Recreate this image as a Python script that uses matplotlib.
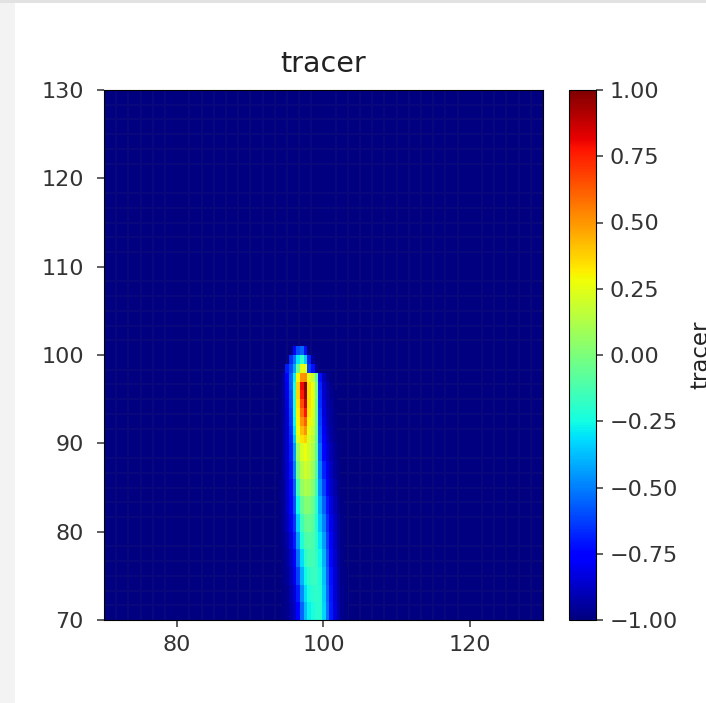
import matplotlib
matplotlib.use('Agg')
import matplotlib.pyplot as plt
from matplotlib.patches import Rectangle
import numpy as np

# cell edges of the plume part of the field, everything else sits at -1
x_edges = [93.3, 93.8, 94.3, 94.8, 95.3, 95.8, 96.3, 96.8, 97.3, 97.8, 98.3, 98.8,
           99.3, 99.8, 100.3, 100.8, 101.3, 101.8, 102.3, 102.8, 103.3]
y_edges = [70, 72, 74, 76, 78, 80, 82, 84, 86, 88, 90, 91, 92, 93, 94, 95,
           96, 97, 98, 99, 100, 101]

# tracer values, bottom row first
tracer = [
    [-1, -1, -.99, -.97, -.93, -.87, -.75, -.55, -.38, -.28, -.24, -.2, -.2, -.33, -.52, -.7, -.84, -.92, -.97, -.99],
    [-1, -1, -.99, -.97, -.92, -.85, -.7, -.48, -.32, -.24, -.2, -.18, -.21, -.35, -.54, -.71, -.85, -.93, -.97, -.99],
    [-1, -1, -.98, -.96, -.9, -.8, -.62, -.4, -.26, -.19, -.17, -.17, -.23, -.37, -.56, -.72, -.85, -.93, -.98, -.99],
    [-1, -1, -.98, -.95, -.88, -.76, -.53, -.32, -.19, -.14, -.14, -.18, -.26, -.4, -.58, -.74, -.86, -.94, -.98, -1],
    [-1, -.99, -.97, -.93, -.84, -.7, -.44, -.22, -.12, -.1, -.12, -.2, -.3, -.44, -.62, -.77, -.88, -.95, -.98, -1],
    [-1, -.99, -.96, -.9, -.8, -.65, -.35, -.15, -.06, -.05, -.08, -.22, -.36, -.5, -.66, -.8, -.89, -.95, -.98, -1],
    [-1, -.99, -.96, -.89, -.77, -.6, -.26, -.06, .02, .02, -.05, -.2, -.4, -.56, -.71, -.83, -.91, -.96, -.99, -1],
    [-1, -.99, -.96, -.88, -.74, -.56, -.14, .06, .12, .1, .03, -.16, -.46, -.62, -.76, -.86, -.93, -.97, -1, -1],
    [-1, -.99, -.95, -.87, -.72, -.5, -.02, .14, .2, .16, .08, -.12, -.5, -.68, -.8, -.89, -.95, -.98, -1, -1],
    [-1, -.99, -.95, -.86, -.7, -.44, .08, .22, .28, .2, .12, -.08, -.54, -.74, -.84, -.91, -.96, -.99, -1, -1],
    [-1, -.99, -.95, -.86, -.68, -.36, .22, .34, .38, .22, .15, -.07, -.58, -.78, -.87, -.93, -.97, -1, -1, -1],
    [-1, -.99, -.95, -.86, -.66, -.3, .28, .42, .5, .25, .18, -.05, -.6, -.8, -.88, -.94, -.97, -1, -1, -1],
    [-1, -.99, -.95, -.86, -.64, -.26, .3, .5, .62, .3, .22, -.05, -.62, -.82, -.9, -.95, -.98, -1, -1, -1],
    [-1, -.99, -.95, -.85, -.62, -.24, .32, .58, .78, .33, .24, -.05, -.64, -.84, -.91, -.95, -.98, -1, -1, -1],
    [-1, -.99, -.95, -.84, -.6, -.22, .34, .66, .88, .35, .26, -.04, -.66, -.85, -.92, -.96, -.99, -1, -1, -1],
    [-1, -.99, -.94, -.82, -.58, -.2, .36, .76, .96, .35, .26, -.02, -.67, -.86, -.92, -.97, -.99, -1, -1, -1],
    [-1, -.99, -.94, -.8, -.56, -.22, .38, .8, 1, .35, .25, -.02, -.68, -.87, -.93, -.97, -1, -1, -1, -1],
    [-1, -.99, -.94, -.76, -.55, -.28, .3, .5, .52, .25, .18, -.08, -.72, -.9, -.96, -1, -1, -1, -1, -1],
    [-1, -1, -1, -.7, -.6, -.42, -.05, .25, .25, -.62, -.72, -.95, -1, -1, -1, -1, -1, -1, -1, -1],
    [-1, -1, -1, -1, -.66, -.52, -.3, -.18, -.35, -.68, -.95, -1, -1, -1, -1, -1, -1, -1, -1, -1],
    [-1, -1, -1, -1, -1, -.75, -.6, -.55, -.72, -1, -1, -1, -1, -1, -1, -1, -1, -1, -1, -1],
]

x_ticks = [80, 100, 120]
y_ticks = [70, 80, 90, 100, 110, 120, 130]
cbar_ticks = [-1, -0.75, -0.5, -0.25, 0, 0.25, 0.5, 0.75, 1]
cbar_labels = ['\u22121.00', '\u22120.75', '\u22120.50', '\u22120.25', '0.00', '0.25', '0.50', '0.75', '1.00']

W, H = 706, 703
fig = plt.figure(figsize=(W / 100, H / 100), dpi=100)

# notebook page edges around the screenshot
fig.add_artist(Rectangle((0, 0), 15 / W, 1, transform=fig.transFigure, color='#f3f3f3', lw=0))
fig.add_artist(Rectangle((0, 1 - 3 / H), 1, 3 / H, transform=fig.transFigure, color='#e2e2e2', lw=0))

ax = fig.add_axes([104 / W, 1 - 620 / H, 439 / W, 530 / H])
cax = fig.add_axes([569 / W, 1 - 620 / H, 27 / W, 530 / H])

ax.set_facecolor(plt.get_cmap('jet')(0.0))

# faint block pattern of the compressed screenshot
ax.set_xticks(np.arange(36) * 60 / 36 + 70, minor=True)
ax.set_yticks(np.arange(36) * 60 / 36 + 70, minor=True)
ax.tick_params(which='minor', length=0)
ax.grid(which='minor', color='#0a0a7c', lw=1.2)
ax.set_axisbelow(True)

mesh = ax.pcolormesh(x_edges, y_edges, np.ma.masked_equal(tracer, -1), cmap='jet', vmin=-1, vmax=1)
ax.set_xlim(70, 130)
ax.set_ylim(70, 130)
ax.set_xticks(x_ticks)
ax.set_yticks(y_ticks)
ax.tick_params(axis='x', labelsize=16, length=5, width=1.1, pad=6, colors='#333333')
ax.tick_params(axis='y', labelsize=16, length=5, width=1.1, pad=9.5, colors='#333333')
ax.set_title('tracer', fontsize=20.5, color='#222222', pad=13)

cbar = fig.colorbar(mesh, cax=cax)
cbar.set_ticks(cbar_ticks)
cbar.set_ticklabels(cbar_labels)
cbar.ax.tick_params(labelsize=16, length=5, width=1.1, pad=5, colors='#333333')
cbar.set_label('tracer', fontsize=16.5, color='#222222', labelpad=8)

fig.savefig('out.png', dpi=100)
